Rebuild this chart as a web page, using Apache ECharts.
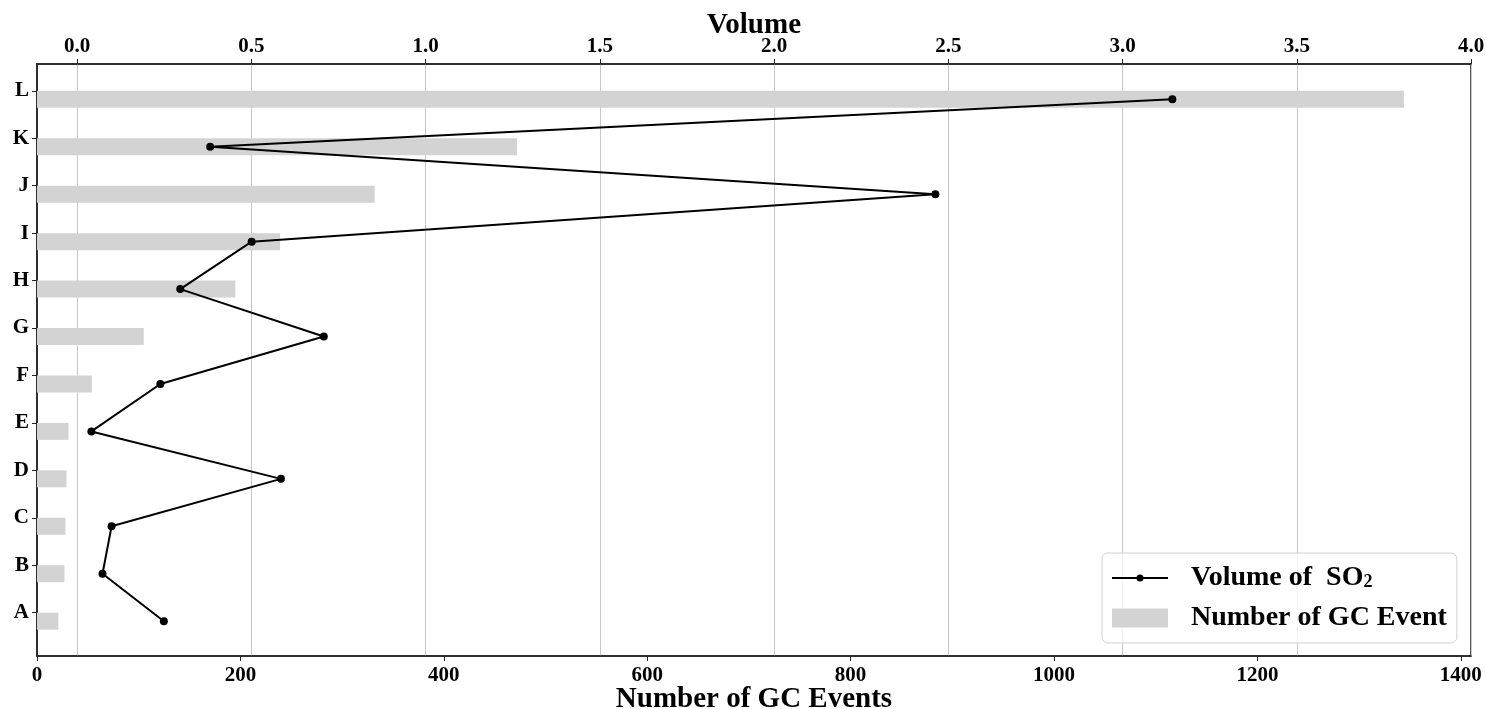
<!DOCTYPE html>
<html>
<head>
<meta charset="utf-8">
<script src="https://cdn.jsdelivr.net/npm/echarts@6/dist/echarts.min.js"></script>
<style>
  html, body { margin: 0; padding: 0; background: #fff; }
  #chart { width: 1486px; height: 709px; }
</style>
</head>
<body>
<div id="chart"></div>
<script>
// data, ordered bottom (A) to top (L)
const categories = ["A", "B", "C", "D", "E", "F", "G", "H", "I", "J", "K", "L"];
const gcEvents = [21, 27, 28, 29, 31, 54, 105, 195, 239, 332, 472, 1344];
const so2Volume = [0.249, 0.073, 0.099, 0.585, 0.041, 0.239, 0.708, 0.296, 0.501, 2.463, 0.382, 3.143];
const eventTicks = [0, 200, 400, 600, 800, 1000, 1200, 1400];
const volumeTicks = [0, 0.5, 1, 1.5, 2, 2.5, 3, 3.5, 4];
const rowTicks = categories.map((c, i) => i);

const font = "Liberation Serif";
const ink = "#222";

const chart = echarts.init(document.getElementById("chart"));

const labelStyle = { fontFamily: font, fontWeight: "bold", fontSize: 21, color: "#000" };
const nameStyle = { fontFamily: font, fontWeight: "bold", fontSize: 29, color: "#000" };

// line-with-dot legend icon, 56 x 7
const lineDotIcon = "path://M0,2.5L56,2.5L56,4.5L0,4.5Z M24.5,3.5A3.5,3.5 0 1 1 31.5,3.5A3.5,3.5 0 1 1 24.5,3.5Z";

const option = {
    animation: false,
    backgroundColor: "#fff",
    grid: [
        // frame with visible axes
        { left: 37, right: 15, top: 64, bottom: 53, show: true, borderColor: ink, borderWidth: 1.5,
          containLabel: false, outerBoundsMode: "none" },
        // grid that holds the marks, rows sit a bit below their tick
        { left: 37, right: 15, top: 75.6, bottom: 64.1, containLabel: false, outerBoundsMode: "none" }
    ],
    legend: {
        orient: "vertical",
        left: 1102,
        top: 553,
        padding: [11, 10, 11, 10],
        itemGap: 12,
        itemWidth: 56,
        itemHeight: 19,
        backgroundColor: "rgba(255,255,255,0.8)",
        borderColor: "#d0d0d0",
        borderWidth: 1,
        borderRadius: 6,
        data: [
            { name: "so2", icon: lineDotIcon },
            { name: "gc", icon: "rect" }
        ],
        formatter: name => name === "so2" ? "{t|Volume of  SO}{s|2}" : "{t|Number of GC Event}",
        textStyle: {
            padding: [0, 0, 0, 18],
            rich: {
                t: { fontFamily: font, fontWeight: "bold", fontSize: 28, lineHeight: 27, color: "#000" },
                s: { fontFamily: font, fontWeight: "bold", fontSize: 18, lineHeight: 5, verticalAlign: "bottom", color: "#000" }
            }
        }
    },
    xAxis: [
        {
            type: "value", gridIndex: 0, position: "bottom",
            min: 0, max: 1410,
            name: "Number of GC Events", nameLocation: "middle", nameGap: 29, nameMoveOverlap: false,
            nameTextStyle: nameStyle,
            axisLine: { show: true, onZero: false, lineStyle: { color: ink, width: 1.5 } },
            axisTick: { show: true, length: 5, customValues: eventTicks, lineStyle: { color: ink } },
            axisLabel: Object.assign({ margin: 9, customValues: eventTicks, formatter: v => String(v) }, labelStyle),
            splitLine: { show: false }
        },
        {
            type: "value", gridIndex: 0, position: "top",
            min: -0.115, max: 4, minInterval: 0.5, maxInterval: 0.5,
            name: "Volume", nameLocation: "middle", nameGap: 24, nameMoveOverlap: false,
            nameTextStyle: nameStyle,
            axisLine: { show: true, onZero: false, lineStyle: { color: ink, width: 1.5 } },
            axisTick: { show: true, length: 5, customValues: volumeTicks, lineStyle: { color: ink } },
            axisLabel: Object.assign({ margin: 6.5, customValues: volumeTicks, formatter: v => v.toFixed(1) }, labelStyle),
            splitLine: { show: true, lineStyle: { color: "#c8c8c8", width: 1 } }
        },
        { type: "value", gridIndex: 1, position: "bottom", min: 0, max: 1410, show: false },
        { type: "value", gridIndex: 1, position: "top", min: -0.115, max: 4, show: false }
    ],
    yAxis: [
        {
            type: "value", gridIndex: 0,
            min: -0.913, max: 11.565,
            axisLine: { show: true, onZero: false, lineStyle: { color: ink, width: 1.5 } },
            axisTick: { show: true, length: 5, customValues: rowTicks, lineStyle: { color: ink } },
            axisLabel: Object.assign({ margin: 8, padding: [4, 0, 0, 0], customValues: rowTicks,
                formatter: v => categories[Math.round(v)] }, labelStyle),
            splitLine: { show: false }
        },
        { type: "category", gridIndex: 1, data: categories, boundaryGap: true, show: false }
    ],
    series: [
        {
            name: "gc",
            type: "bar",
            xAxisIndex: 2,
            yAxisIndex: 1,
            data: gcEvents,
            barWidth: 17,
            itemStyle: { color: "#d3d3d3" },
            z: 2
        },
        {
            name: "so2",
            type: "line",
            xAxisIndex: 3,
            yAxisIndex: 1,
            data: so2Volume,
            symbol: "circle",
            symbolSize: 8,
            symbolKeepAspect: true,
            lineStyle: { color: "#000", width: 2 },
            itemStyle: { color: "#000" },
            z: 3
        }
    ]
};

chart.setOption(option);
</script>
</body>
</html>
